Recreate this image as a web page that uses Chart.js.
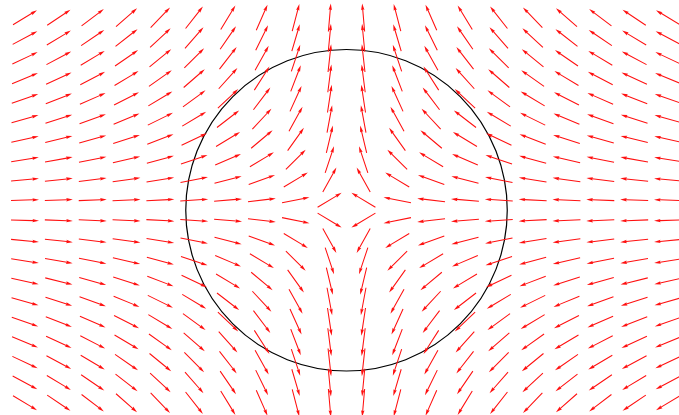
<!DOCTYPE html>
<html>
<head>
<meta charset="utf-8">
<script src="https://cdn.jsdelivr.net/npm/chart.js@4.4.1/dist/chart.umd.min.js"></script>
<style>
  html, body { margin: 0; padding: 0; background: #ffffff; }
  #wrap { width: 679px; height: 415px; }
</style>
</head>
<body>
<div id="wrap"><canvas id="c" width="679" height="415"></canvas></div>
<script>
// Grid positions of the arrows (x columns, y rows)
const gridX = [-5, -4.474, -3.947, -3.421, -2.895, -2.368, -1.842, -1.316, -0.789, -0.263,
               0.263, 0.789, 1.316, 1.842, 2.368, 2.895, 3.421, 3.947, 4.474, 5];
const gridY = [-3, -2.684, -2.368, -2.053, -1.737, -1.421, -1.105, -0.789, -0.474, -0.158,
               0.158, 0.474, 0.789, 1.105, 1.421, 1.737, 2.053, 2.368, 2.684, 3];

// Horizontal component for each column, vertical component for each row
const uByColumn = [5, 4.474, 3.947, 3.421, 2.895, 2.368, 1.842, 1.316, 0.789, 0.263,
                   -0.263, -0.789, -1.316, -1.842, -2.368, -2.895, -3.421, -3.947, -4.474, -5];
const vByRow = [-3, -2.684, -2.368, -2.053, -1.737, -1.421, -1.105, -0.789, -0.474, -0.158,
                0.158, 0.474, 0.789, 1.105, 1.421, 1.737, 2.053, 2.368, 2.684, 3];

// Circle radius in data units
const circleRadius = [2.5];

// Build the point table for the quiver dataset
const quiverPoints = [];
for (let j = 0; j < gridY.length; j++) {
  for (let i = 0; i < gridX.length; i++) {
    quiverPoints.push({ x: gridX[i], y: gridY[j], u: uByColumn[i], v: vByRow[j] });
  }
}

// Draws the reference circle and the unit-length arrows at each point
const quiverPlugin = {
  id: 'quiver',
  afterDatasetsDraw(chart) {
    const ctx = chart.ctx;
    const xs = chart.scales.x, ys = chart.scales.y;

    // circle centred on the origin
    const cx = xs.getPixelForValue(0), cy = ys.getPixelForValue(0);
    const r = xs.getPixelForValue(circleRadius[0]) - cx;
    ctx.save();
    ctx.beginPath();
    ctx.arc(cx, cy, r, 0, Math.PI * 2);
    ctx.strokeStyle = '#000000';
    ctx.lineWidth = 1.2;
    ctx.stroke();
    ctx.restore();

    // arrows, pivoting about their midpoints
    const meta = chart.getDatasetMeta(0);
    const L = 28, w = 1.05, hw = 3.4, hl = 6.6, hal = 5.9;
    ctx.save();
    ctx.fillStyle = '#ff1010';
    meta.data.forEach((el, k) => {
      const p = quiverPoints[k];
      const ang = Math.atan2(-p.v, p.u);
      ctx.save();
      ctx.translate(el.x, el.y);
      ctx.rotate(ang);
      ctx.translate(-L / 2, 0);
      ctx.beginPath();
      ctx.moveTo(0, -w / 2);
      ctx.lineTo(L - hal, -w / 2);
      ctx.lineTo(L - hl, -hw / 2);
      ctx.lineTo(L, 0);
      ctx.lineTo(L - hl, hw / 2);
      ctx.lineTo(L - hal, w / 2);
      ctx.lineTo(0, w / 2);
      ctx.closePath();
      ctx.fill();
      ctx.restore();
    });
    ctx.restore();
  }
};

new Chart(document.getElementById('c'), {
  type: 'scatter',
  data: {
    datasets: [{
      data: quiverPoints,
      pointRadius: 0,
      pointHoverRadius: 0,
      showLine: false
    }]
  },
  options: {
    responsive: false,
    animation: false,
    layout: { padding: 0 },
    plugins: { legend: { display: false }, tooltip: { enabled: false } },
    scales: {
      x: { type: 'linear', display: false, min: -5.389, max: 5.171 },
      y: { type: 'linear', display: false, min: -3.187, max: 3.272 }
    }
  },
  plugins: [quiverPlugin]
});
</script>
</body>
</html>
